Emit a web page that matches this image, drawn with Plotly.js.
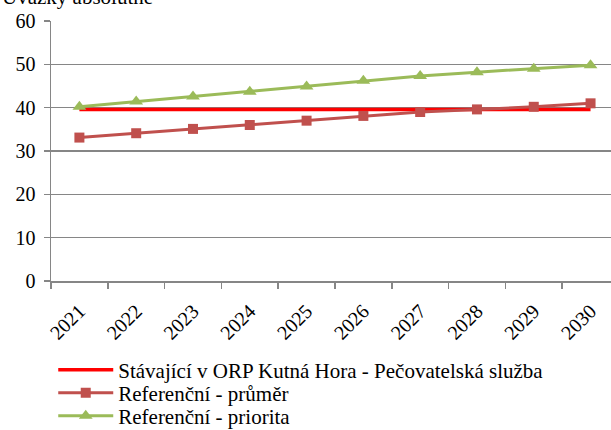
<!DOCTYPE html>
<html><head><meta charset="utf-8">
<script src="https://cdn.plot.ly/plotly-3.0.1.min.js"></script>
<style>html,body{margin:0;padding:0;overflow:hidden;background:#fff}</style>
</head><body><div id="chart" style="width:611px;height:430px"></div>
<script>
var years = ['2021','2022','2023','2024','2025','2026','2027','2028','2029','2030'];
var stavajici = [39.6,39.6,39.6,39.6,39.6,39.6,39.6,39.6,39.6,39.6];
var prumer = [33.1,34.1,35.1,36.0,37.0,38.1,39.0,39.6,40.2,41.0];
var priorita = [40.2,41.4,42.6,43.7,44.9,46.2,47.3,48.2,49.0,49.8];
var names = ['Stávající v ORP Kutná Hora - Pečovatelská služba','Referenční - průměr','Referenční - priorita'];
var titleText = 'Úvazky absolutně';

var FAM = 'Liberation Serif';
function f(s){ return {family:FAM, size:s, color:'#000'}; }
var traces = [
  {x:years, y:stavajici, name:names[0], type:'scatter', mode:'lines', line:{color:'#FF0000', width:3.5}, legend:'legend'},
  {x:years, y:prumer, name:names[1], type:'scatter', mode:'lines+markers', line:{color:'#C0504D', width:3},
   marker:{symbol:'square', size:10, color:'#C0504D'}, legend:'legend2'},
  {x:years, y:priorita, name:names[2], type:'scatter', mode:'lines+markers', line:{color:'#9BBB59', width:3},
   marker:{symbol:'triangle-up', size:12, color:'#9BBB59'}, legend:'legend3'}
];
function leg(row){
  return {x:0.004, xref:'paper', y:1 - (370 + 23*row)/430, yref:'container', xanchor:'left', yanchor:'middle',
          font:f(21), bgcolor:'rgba(0,0,0,0)', itemwidth:55, borderwidth:0};
}
var layout = {
  width:611, height:430,
  margin:{l:51, r:0, t:21, b:149},
  paper_bgcolor:'#fff', plot_bgcolor:'#fff',
  font: f(20),
  showlegend:true,
  legend:leg(0), legend2:leg(1), legend3:leg(2),
  xaxis:{type:'category', range:[-0.5, 9.36], showgrid:false, showline:true, linecolor:'#868686', linewidth:1.5,
         ticks:'outside', tickson:'boundaries', ticklen:6, tickcolor:'#868686', tickwidth:1.5,
         tickangle:-45, tickfont:f(20), ticklabelstandoff:9, zeroline:false, fixedrange:true, automargin:false},
  yaxis:{range:[0,60], dtick:10, showgrid:true, gridcolor:'#868686', gridwidth:1.3, showline:true,
         linecolor:'#868686', linewidth:1.5, ticks:'outside', ticklen:6, tickcolor:'#868686', tickwidth:1.5,
         tickfont:f(20), ticklabelstandoff:4, zeroline:false, fixedrange:true, automargin:false},
  annotations:[{text:titleText, xref:'paper', yref:'paper', x:-0.091, y:1.037, xanchor:'left', yanchor:'bottom',
                showarrow:false, font:f(21)}]
};
Plotly.newPlot('chart', traces, layout, {displayModeBar:false, staticPlot:true});
</script></body></html>
